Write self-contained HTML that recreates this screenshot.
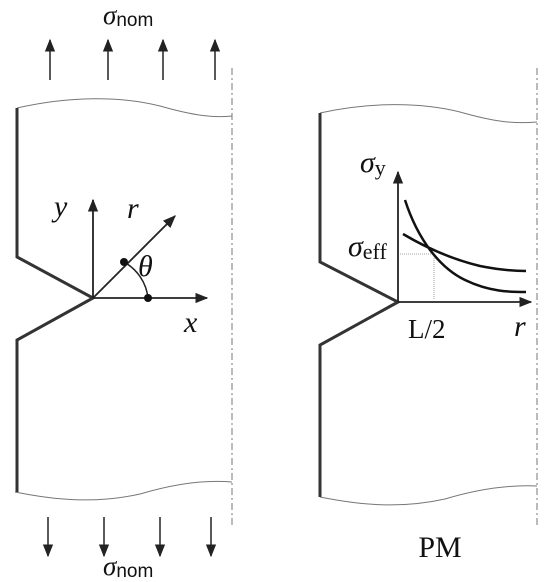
<!DOCTYPE html>
<html><head><meta charset="utf-8"><style>
html,body{margin:0;padding:0;background:#fff;width:548px;height:582px;overflow:hidden}
svg text{font-family:"Liberation Serif",serif;fill:#111}
.sans{font-family:"Liberation Sans",sans-serif}
</style></head><body>
<svg width="548" height="582" viewBox="0 0 548 582" xmlns="http://www.w3.org/2000/svg">
<defs>
<marker id="ah" viewBox="0 0 10 10" refX="9" refY="5" markerWidth="13" markerHeight="13" markerUnits="userSpaceOnUse" orient="auto"><path d="M0,1 L10,5 L0,9 Z" fill="#222"/></marker>
<marker id="ah2" viewBox="0 0 10 10" refX="9" refY="5" markerWidth="13" markerHeight="13" markerUnits="userSpaceOnUse" orient="auto"><path d="M0,1 L10,5 L0,9 Z" fill="#222"/></marker>
</defs>

<g stroke="#222" stroke-width="1.5" marker-end="url(#ah2)">
<line x1="50" y1="80" x2="50" y2="40"/><line x1="108" y1="80" x2="108" y2="40"/>
<line x1="163" y1="80" x2="163" y2="40"/><line x1="215" y1="80" x2="215" y2="40"/>
</g>
<text x="103" y="24" font-size="27" font-style="italic">σ<tspan class="sans" font-size="19" font-style="normal" dy="2">nom</tspan></text>

<g fill="none">
<path d="M17,108 C70,96 120,96 160,106 C195,116 215,118 232,116" stroke="#777" stroke-width="1"/>
<path d="M15,492 C55,500 95,504 140,494 C180,482 210,480 232,482" stroke="#777" stroke-width="1"/>
<polyline points="17,108 17,257 93,298 17,340 17,492" stroke="#333" stroke-width="3"/>
<line x1="232" y1="68" x2="232" y2="528" stroke="#777" stroke-width="1" stroke-dasharray="7,3,2,3"/>
</g>
<g stroke="#222" stroke-width="1.8" fill="none">
<line x1="93" y1="298" x2="93" y2="200" marker-end="url(#ah)"/>
<line x1="93" y1="298" x2="207" y2="298" marker-end="url(#ah)"/>
<line x1="93" y1="298" x2="175" y2="216" marker-end="url(#ah)"/>
<path d="M124,262 A47,47 0 0 1 148,298" stroke-width="1.5"/>
</g>
<circle cx="124" cy="262" r="4" fill="#111"/>
<circle cx="148" cy="298" r="4" fill="#111"/>
<text x="54" y="216" font-size="30" font-style="italic">y</text>
<text x="127" y="218" font-size="30" font-style="italic">r</text>
<text x="138" y="276" font-size="30" font-style="italic">θ</text>
<text x="184" y="332" font-size="30" font-style="italic">x</text>

<g stroke="#222" stroke-width="1.5" marker-end="url(#ah2)">
<line x1="48" y1="517" x2="48" y2="556"/><line x1="104" y1="517" x2="104" y2="556"/>
<line x1="160" y1="517" x2="160" y2="556"/><line x1="211" y1="517" x2="211" y2="556"/>
</g>
<text x="103" y="575" font-size="27" font-style="italic">σ<tspan class="sans" font-size="19" font-style="normal" dy="2">nom</tspan></text>

<g fill="none">
<path d="M320,113 C370,102 420,102 460,112 C495,122 515,124 537,122" stroke="#777" stroke-width="1"/>
<path d="M320,497 C360,505 400,509 445,499 C485,487 515,485 537,486" stroke="#777" stroke-width="1"/>
<polyline points="320,113 320,262 398,302 320,345 320,497" stroke="#333" stroke-width="3"/>
<line x1="537" y1="68" x2="537" y2="525" stroke="#777" stroke-width="1" stroke-dasharray="7,3,2,3"/>
</g>
<g stroke="#222" stroke-width="1.8" fill="none">
<line x1="398" y1="302" x2="398" y2="172" marker-end="url(#ah)"/>
<line x1="398" y1="302" x2="531" y2="302" marker-end="url(#ah)"/>
</g>
<g stroke="#888" stroke-width="0.8" stroke-dasharray="1,1">
<line x1="400" y1="254" x2="434" y2="254"/><line x1="434" y1="254" x2="434" y2="300"/>
</g>
<path d="M405,200 C418,240 440,268 465,280 C490,292 510,292 526,292" fill="none" stroke="#111" stroke-width="2.5"/>
<path d="M403,234 C430,250 455,260 480,266 C500,270 515,271 526,271" fill="none" stroke="#111" stroke-width="2.5"/>
<text x="360" y="172" font-size="30" font-style="italic">σ<tspan font-size="22" font-style="normal" dy="3">y</tspan></text>
<text x="348" y="256" font-size="30" font-style="italic">σ<tspan font-size="22" font-style="normal" dy="3">eff</tspan></text>
<text x="408" y="338" font-size="27">L/2</text>
<text x="514" y="336" font-size="30" font-style="italic">r</text>
<text x="440" y="557" font-size="30" text-anchor="middle">PM</text>
</svg>
</body></html>
